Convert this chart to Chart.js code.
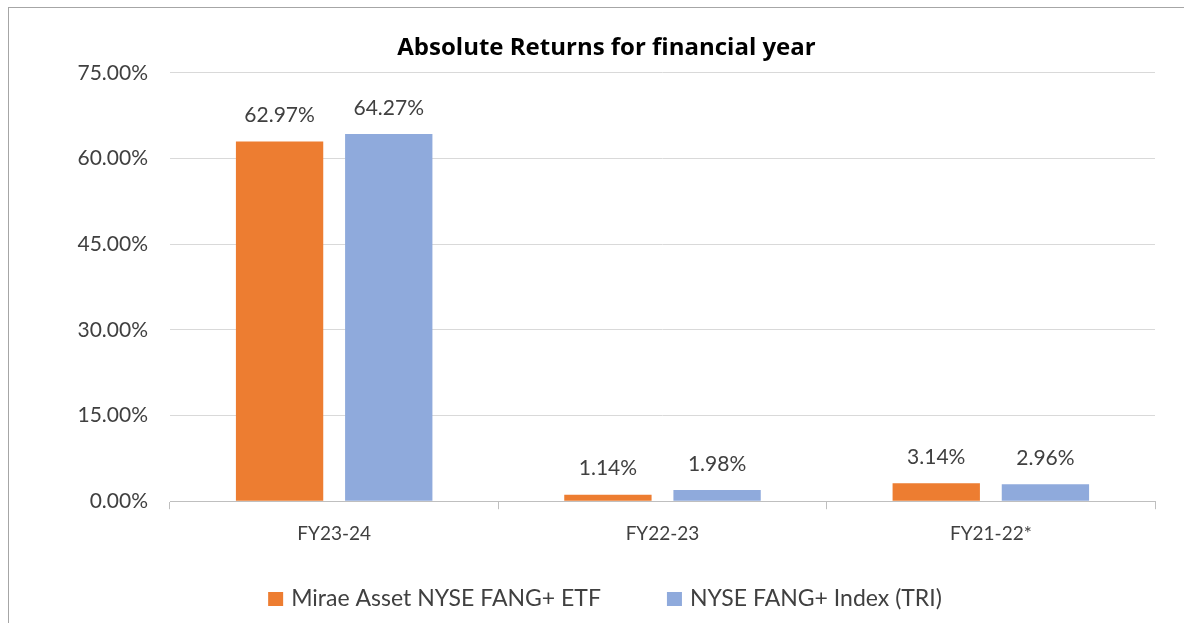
<!DOCTYPE html>
<html>
<head>
<meta charset="utf-8">
<script src="https://cdn.jsdelivr.net/npm/chart.js@4"></script>
<style>
  html, body { margin: 0; padding: 0; background: #fff; }
  #wrap { position: relative; width: 1184px; height: 623px; overflow: hidden; }
  #frame { position: absolute; left: 8px; top: 7px; width: 1300px; height: 700px;
           border-left: 1px solid #a6a6a6; border-top: 1px solid #a6a6a6; }
  canvas { position: absolute; left: 0; top: 0; }
</style>
</head>
<body>
<div id="wrap">
  <div id="frame"></div>
  <canvas id="chart-returns" width="1184" height="623"></canvas>
</div>
<script>
const categories = ["FY23-24", "FY22-23", "FY21-22*"];
const etfReturns = [62.97, 1.14, 3.14];
const indexReturns = [64.27, 1.98, 2.96];
const yTicks = [0, 15, 30, 45, 60, 75];

const fontFamily = "Lato, 'Open Sans', sans-serif";
const textColor = "#404040";

// value labels above each bar
const barLabels = {
    id: "barLabels",
    afterDatasetsDraw(chart) {
        const ctx = chart.ctx;
        ctx.save();
        ctx.font = "21px " + fontFamily;
        ctx.fillStyle = textColor;
        ctx.textAlign = "center";
        ctx.textBaseline = "middle";
        chart.data.datasets.forEach((ds, i) => {
            chart.getDatasetMeta(i).data.forEach((bar, j) => {
                ctx.fillText(ds.data[j].toFixed(2) + "%", bar.x, bar.y - 26);
            });
        });
        ctx.restore();
    },
};

// legend at the bottom, spaced wider than the built-in one allows
const bottomLegend = {
    id: "bottomLegend",
    afterDraw(chart) {
        const ctx = chart.ctx;
        const boxW = 15, boxH = 14, gap = 8, spacing = 66;
        const centerX = 605, centerY = 599;
        ctx.save();
        ctx.font = "23px " + fontFamily;
        ctx.textBaseline = "middle";
        const items = chart.data.datasets.map((ds) => ({
            text: ds.label,
            color: ds.backgroundColor,
            width: ctx.measureText(ds.label).width,
        }));
        const total = items.reduce((s, it) => s + boxW + gap + it.width, 0)
            + spacing * (items.length - 1);
        let x = centerX - total / 2;
        items.forEach((it) => {
            ctx.fillStyle = it.color;
            ctx.fillRect(x, centerY - boxH / 2, boxW, boxH);
            ctx.fillStyle = textColor;
            ctx.fillText(it.text, x + boxW + gap, centerY);
            x += boxW + gap + it.width + spacing;
        });
        ctx.restore();
    },
};

const chartReturns = new Chart(document.getElementById("chart-returns"), {
    type: "bar",
    data: {
        labels: categories,
        datasets: [
            {
                label: "Mirae Asset NYSE FANG+ ETF",
                data: etfReturns,
                backgroundColor: "#ED7D31",
                categoryPercentage: 0.665,
                barPercentage: 0.8,
            },
            {
                label: "NYSE FANG+ Index (TRI)",
                data: indexReturns,
                backgroundColor: "#8FAADC",
                categoryPercentage: 0.665,
                barPercentage: 0.8,
            },
        ],
    },
    options: {
        responsive: false,
        animation: false,
        layout: {
            padding: { left: 58, right: 29, top: 20, bottom: 65 },
        },
        plugins: {
            title: {
                display: true,
                text: "Absolute Returns for financial year",
                color: "#000",
                font: { family: "'Open Sans', Lato, sans-serif", size: 24, weight: "bold" },
                padding: { top: 14, bottom: 10 },
            },
            legend: { display: false },
            tooltip: { enabled: false },
        },
        scales: {
            x: {
                grid: {
                    offset: true,
                    drawOnChartArea: false,
                    tickLength: 8,
                    color: "#bfbfbf",
                },
                border: { color: "#bfbfbf", width: 1 },
                ticks: {
                    color: textColor,
                    font: { family: fontFamily, size: 19 },
                    padding: 13,
                },
            },
            y: {
                min: 0,
                max: 75,
                afterBuildTicks(scale) {
                    scale.ticks = yTicks.map((v) => ({ value: v }));
                },
                afterFit(scale) {
                    scale.width = 112;
                },
                grid: { color: "#d9d9d9", drawTicks: false, lineWidth: 1 },
                border: { display: false },
                ticks: {
                    color: textColor,
                    font: { family: fontFamily, size: 21 },
                    padding: 22,
                    callback: (v) => v.toFixed(2) + "%",
                },
            },
        },
    },
    plugins: [barLabels, bottomLegend],
});
</script>
</body>
</html>
